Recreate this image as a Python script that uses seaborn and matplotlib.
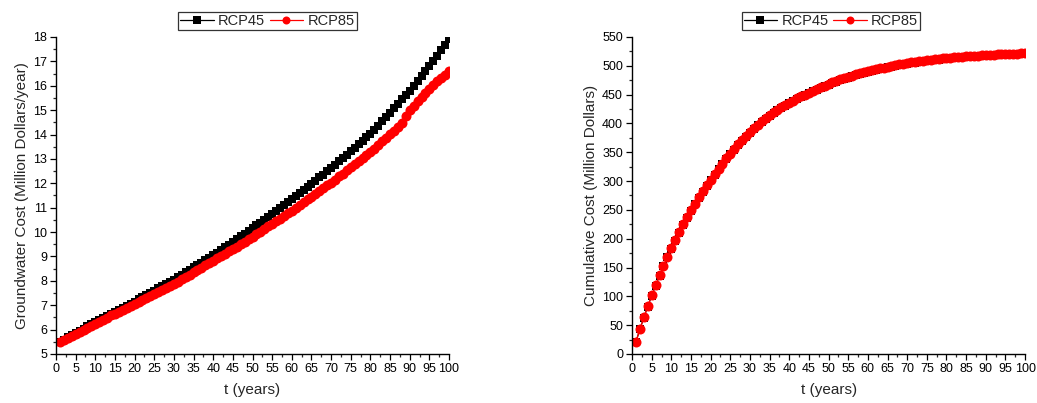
import matplotlib
matplotlib.use("Agg")
import matplotlib.pyplot as plt
from matplotlib.ticker import MultipleLocator
import pandas as pd
import seaborn as sns

years = list(range(1, 101))

gw_rcp45 = [
    5.50, 5.59, 5.68, 5.77, 5.86, 5.95, 6.04, 6.13, 6.21, 6.30,
    6.38, 6.47, 6.55, 6.64, 6.72, 6.81, 6.89, 6.98, 7.06, 7.15,
    7.24, 7.33, 7.42, 7.51, 7.60, 7.69, 7.78, 7.87, 7.96, 8.05,
    8.15, 8.25, 8.35, 8.45, 8.55, 8.65, 8.75, 8.85, 8.95, 9.05,
    9.16, 9.27, 9.38, 9.49, 9.60, 9.71, 9.82, 9.93, 10.04, 10.15,
    10.27, 10.39, 10.51, 10.63, 10.75, 10.87, 10.99, 11.11, 11.23, 11.35,
    11.48, 11.60, 11.73, 11.86, 11.98, 12.11, 12.24, 12.36, 12.49, 12.62,
    12.76, 12.90, 13.04, 13.18, 13.32, 13.46, 13.60, 13.74, 13.88, 14.02,
    14.19, 14.36, 14.54, 14.72, 14.90, 15.08, 15.26, 15.44, 15.62, 15.80,
    16.00, 16.20, 16.40, 16.60, 16.80, 17.02, 17.24, 17.46, 17.68, 17.90,
]

gw_rcp85 = [
    5.48, 5.57, 5.65, 5.74, 5.82, 5.91, 5.99, 6.08, 6.16, 6.25,
    6.33, 6.41, 6.49, 6.58, 6.66, 6.74, 6.82, 6.90, 6.98, 7.07,
    7.15, 7.23, 7.31, 7.39, 7.47, 7.55, 7.63, 7.71, 7.79, 7.88,
    7.97, 8.06, 8.16, 8.25, 8.35, 8.44, 8.54, 8.63, 8.72, 8.82,
    8.92, 9.01, 9.11, 9.21, 9.31, 9.40, 9.50, 9.60, 9.70, 9.80,
    9.91, 10.01, 10.12, 10.23, 10.34, 10.44, 10.55, 10.66, 10.77, 10.88,
    10.99, 11.11, 11.22, 11.34, 11.45, 11.57, 11.68, 11.80, 11.91, 12.03,
    12.15, 12.28, 12.40, 12.53, 12.65, 12.78, 12.90, 13.03, 13.15, 13.28,
    13.42, 13.57, 13.72, 13.87, 14.02, 14.16, 14.30, 14.48, 14.75, 15.00,
    15.18, 15.36, 15.54, 15.72, 15.88, 16.03, 16.18, 16.32, 16.46, 16.60,
]

cum_rcp45 = [
    21.4, 42.8, 63.2, 82.4, 101.0, 118.7, 135.6, 151.9, 167.5, 182.6,
    196.9, 210.6, 223.8, 236.3, 248.4, 259.9, 271.0, 281.6, 291.7, 301.4,
    311.0, 320.3, 329.3, 338.0, 346.4, 354.5, 362.3, 369.8, 377.1, 384.1,
    390.7, 396.9, 402.7, 408.1, 413.2, 418.0, 422.5, 426.8, 430.9, 434.8,
    438.5, 442.1, 445.6, 449.0, 452.3, 455.5, 458.6, 461.6, 464.5, 467.3,
    470.0, 472.6, 475.1, 477.5, 479.7, 481.8, 483.8, 485.7, 487.5, 489.2,
    490.9, 492.6, 494.2, 495.7, 497.1, 498.5, 499.9, 501.2, 502.4, 503.6,
    504.7, 505.7, 506.7, 507.6, 508.5, 509.3, 510.1, 510.8, 511.5, 512.2,
    512.8, 513.4, 514.0, 514.6, 515.1, 515.6, 516.1, 516.6, 517.0, 517.4,
    517.8, 518.2, 518.5, 518.9, 519.2, 519.5, 519.8, 520.0, 520.3, 520.5,
]

cum_rcp85 = [
    21.5, 43.0, 63.5, 82.8, 101.5, 119.2, 136.2, 152.6, 168.3, 183.4,
    197.8, 211.6, 224.8, 237.4, 249.5, 261.1, 272.2, 282.8, 292.9, 302.6,
    312.2, 321.5, 330.5, 339.2, 347.6, 355.7, 363.5, 371.0, 378.3, 385.3,
    391.9, 398.1, 403.9, 409.3, 414.4, 419.2, 423.7, 428.0, 432.1, 436.0,
    439.7, 443.3, 446.8, 450.2, 453.5, 456.7, 459.8, 462.8, 465.7, 468.5,
    471.2, 473.8, 476.3, 478.7, 480.9, 483.0, 485.0, 486.9, 488.7, 490.4,
    492.1, 493.8, 495.4, 496.9, 498.3, 499.7, 501.1, 502.4, 503.6, 504.8,
    505.9, 506.9, 507.9, 508.8, 509.7, 510.5, 511.3, 512.0, 512.7, 513.4,
    514.0, 514.6, 515.2, 515.8, 516.3, 516.8, 517.3, 517.8, 518.2, 518.6,
    519.0, 519.4, 519.7, 520.1, 520.4, 520.7, 521.0, 521.2, 521.5, 521.7,
]

series_styles = {
    "RCP45": {"color": "black", "marker": "s", "size": 6.4},
    "RCP85": {"color": "red", "marker": "o", "size": 7.2},
}


def draw_panel(ax, values, ylabel, ylim, ymajor, yminor, legend_x):
    for name, vals in values.items():
        st = series_styles[name]
        df = pd.DataFrame({"t": years, "v": vals})
        sns.lineplot(
            data=df, x="t", y="v", ax=ax, color=st["color"], marker=st["marker"],
            markersize=st["size"], markeredgewidth=0, linewidth=0.9, label=name,
        )
    ax.set_xlim(0, 100)
    ax.set_ylim(*ylim)
    ax.xaxis.set_major_locator(MultipleLocator(5))
    ax.xaxis.set_minor_locator(MultipleLocator(2.5))
    ax.yaxis.set_major_locator(MultipleLocator(ymajor))
    ax.yaxis.set_minor_locator(MultipleLocator(yminor))
    ax.tick_params(which="major", direction="out", length=4.5, width=0.9,
                   labelsize=9, colors="black", pad=2)
    ax.tick_params(which="minor", direction="out", length=2.5, width=0.9)
    for side in ["top", "right"]:
        ax.spines[side].set_visible(False)
    for side in ["left", "bottom"]:
        ax.spines[side].set_color("black")
        ax.spines[side].set_linewidth(1.0)
    ax.set_xlabel("t (years)", fontsize=11, labelpad=6)
    ax.set_ylabel(ylabel, fontsize=11, labelpad=3)
    leg = ax.legend(
        loc="lower center", bbox_to_anchor=(legend_x, 1.022), ncol=2,
        frameon=True, fancybox=False, fontsize=10.5, handlelength=2.3,
        handletextpad=0.3, columnspacing=0.3, borderpad=0.15,
        borderaxespad=0, markerscale=0.8,
    )
    leg.get_frame().set_edgecolor("black")
    leg.get_frame().set_linewidth(0.9)


sns.set_style("ticks")
plt.rcParams["font.family"] = ["Liberation Sans", "DejaVu Sans"]

fig = plt.figure(figsize=(10.37, 4.03), dpi=100)
ax1 = fig.add_axes([0.054, 0.1216, 0.379, 0.7866])
ax2 = fig.add_axes([0.6095, 0.1216, 0.379, 0.7866])

draw_panel(ax1, {"RCP45": gw_rcp45, "RCP85": gw_rcp85},
           "Groundwater Cost (Million Dollars/year)", (5, 18), 1, 0.5, 0.538)
draw_panel(ax2, {"RCP45": cum_rcp45, "RCP85": cum_rcp85},
           "Cumulative Cost (Million Dollars)", (0, 550), 50, 25, 0.506)

fig.savefig("out.png", dpi=100)
